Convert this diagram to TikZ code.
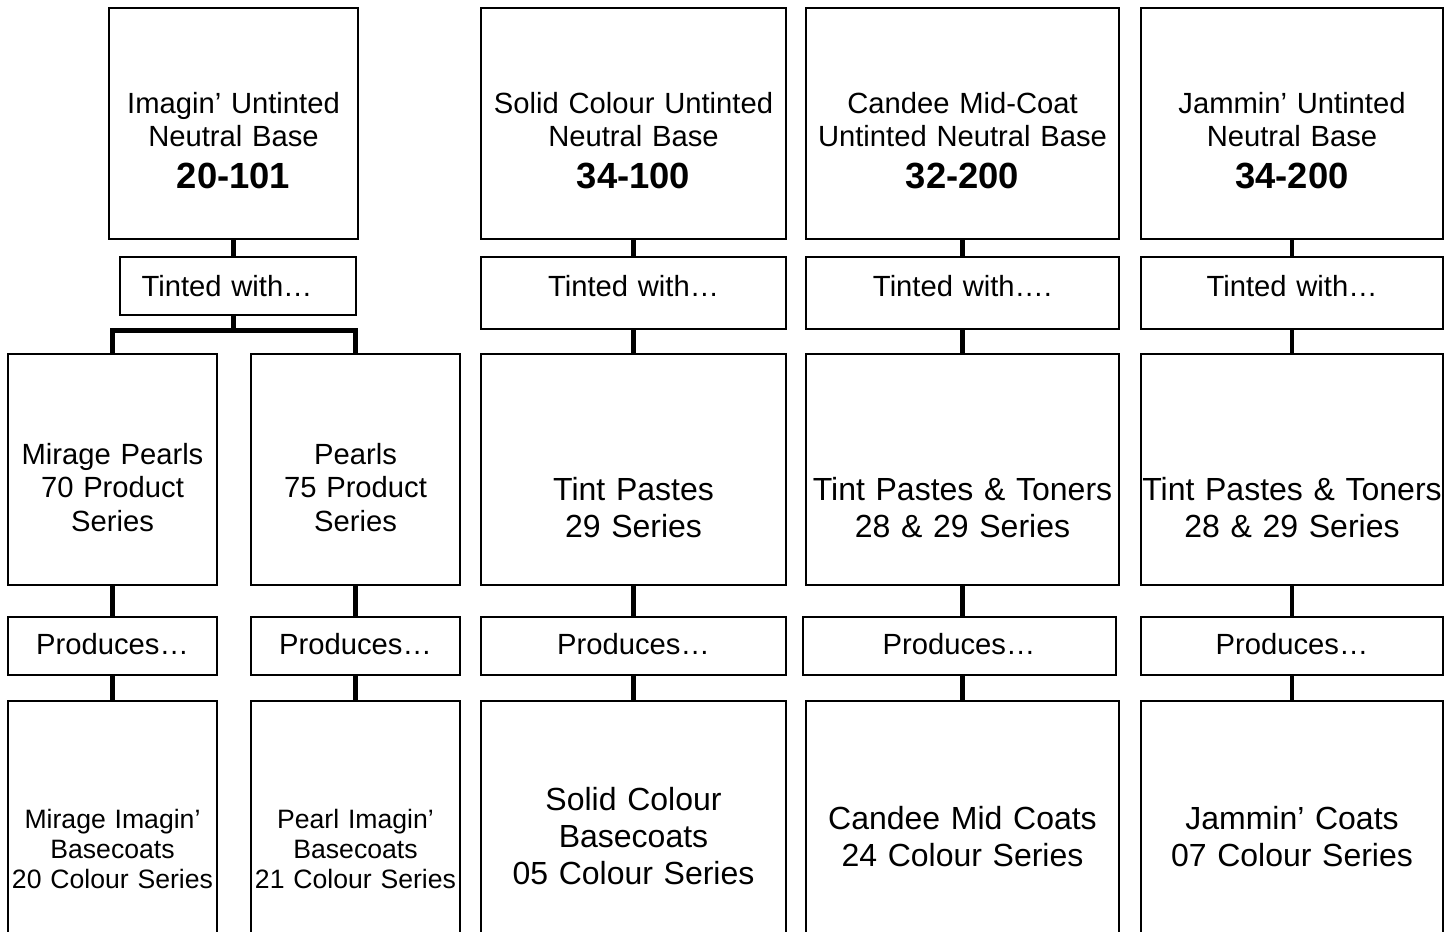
\documentclass[tikz,border=0pt]{standalone}
\usepackage{fontspec}
\setmainfont{Liberation Sans}
\usetikzlibrary{positioning}
\newcommand{\midsize}{\fontsize{14.6pt}{16.7pt}\selectfont}
\newcommand{\bigsize}{\fontsize{16pt}{18.5pt}\selectfont}
\newcommand{\smallsize}{\fontsize{13.3pt}{15pt}\selectfont}
\newcommand{\basecode}[1]{{\fontsize{18.2pt}{16.7pt}\selectfont\bfseries #1}}
\tikzstyle{box} = [
    draw,
    line width=1pt,
    inner sep=0pt,
    outer sep=0pt,
    align=center,
]
\tikzstyle{basebox} = [
    box,
    font=\midsize,
    text height=52.75pt,
    text depth=62.75pt,
]
\tikzstyle{tintbox} = [
    box,
    font=\midsize,
    text height=19.5pt,
    text depth=16.5pt,
]
\tikzstyle{serbox} = [
    box,
    font=\bigsize,
    text height=73.25pt,
    text depth=42.25pt,
]
\tikzstyle{prodbox} = [
    box,
    font=\midsize,
    text height=18.75pt,
    text depth=10.25pt,
]
\tikzstyle{coatbox} = [
    box,
    font=\bigsize,
    text height=64.25pt,
    text depth=65.75pt,
]
\tikzstyle{link} = [
    line width=2.4pt
]

\begin{document}
\begin{tikzpicture}[x=0.5pt, y=-0.5pt, node distance=0pt]
	\useasboundingbox (0,0) rectangle (1455,931);
	\clip (0,0) rectangle (1455,931);

	%
	% Imagin' column
	\node[basebox, text width=124.5pt, anchor=north] (top1) at (233.5,8) {Imagin’ Untinted\\Neutral Base\\[4pt]\basecode{20-101}};
	\node[tintbox, text width=118pt, text depth=9.5pt, below=9pt of top1, xshift=2.25pt] (tint1) {Tinted with…\hspace{11pt}\mbox{}};
	\node[serbox, font=\midsize, text width=104.5pt, text height=55.25pt, text depth=60.25pt, anchor=north] (ser1a) at (112.5,354) {Mirage Pearls\\70 Product\\Series};
	\node[serbox, font=\midsize, text width=104.5pt, text height=55.25pt, text depth=60.25pt, anchor=north] (ser1b) at (355.5,354) {Pearls\\75 Product\\Series};
	\node[prodbox, text width=104.5pt, below=16pt of ser1a] (prod1a) {Produces…};
	\node[prodbox, text width=104.5pt, below=16pt of ser1b] (prod1b) {Produces…};
	\node[coatbox, font=\smallsize, text width=104.5pt, text height=63.75pt, text depth=66.25pt, below=13pt of prod1a] (coat1a) {Mirage Imagin’\\Basecoats\\20 Colour Series};
	\node[coatbox, font=\smallsize, text width=104.5pt, text height=63.75pt, text depth=66.25pt, below=13pt of prod1b] (coat1b) {Pearl Imagin’\\Basecoats\\21 Colour Series};

	%
	% Solid colour column
	\node[basebox, text width=152.5pt, anchor=north] (top2) at (633.5,8) {Solid Colour Untinted\\Neutral Base\\[4pt]\basecode{34-100}};
	\node[tintbox, text width=152.5pt, below=9pt of top2] (tint2) {Tinted with…};
	\node[serbox, text width=152.5pt, below=12.5pt of tint2] (ser2) {Tint Pastes\\29 Series};
	\node[prodbox, text width=152.5pt, below=16pt of ser2] (prod2) {Produces…};
	\node[coatbox, text width=152.5pt, text height=54.75pt, text depth=75.25pt, below=13pt of prod2] (coat2) {Solid Colour\\Basecoats\\05 Colour Series};

	%
	% Candee column
	\node[basebox, text width=156.5pt, anchor=north] (top3) at (962.5,8) {Candee Mid-Coat\\Untinted Neutral Base\\[4pt]\basecode{32-200}};
	\node[tintbox, text width=156.5pt, below=9pt of top3] (tint3) {Tinted with….};
	\node[serbox, text width=156.5pt, below=12.5pt of tint3] (ser3) {Tint Pastes \& Toners\\28 \& 29 Series};
	\node[prodbox, text width=156.5pt, below=16pt of ser3, xshift=-1.75pt] (prod3) {Produces…};
	\node[coatbox, text width=156.5pt, below=13pt of prod3, xshift=1.75pt] (coat3) {Candee Mid Coats\\24 Colour Series};

	%
	% Jammin' column
	\node[basebox, text width=151pt, anchor=north] (top4) at (1292,8) {Jammin’ Untinted\\Neutral Base\\[4pt]\basecode{34-200}};
	\node[tintbox, text width=151pt, below=9pt of top4] (tint4) {Tinted with…};
	\node[serbox, text width=151pt, below=12.5pt of tint4] (ser4) {Tint Pastes \& Toners\\28 \& 29 Series};
	\node[prodbox, text width=151pt, below=16pt of ser4] (prod4) {Produces…};
	\node[coatbox, text width=151pt, below=13pt of prod4] (coat4) {Jammin’ Coats\\07 Colour Series};

	%
	% Links
	\draw[link] (top1.south) -- (top1.south |- tint1.north);
	\draw[link] (top1.south |- tint1.south) -- ++(0,15.5) coordinate (fork) -| (ser1a.north)
		(fork) -| (ser1b.north);
	\draw[link] (ser1a) -- (prod1a);
	\draw[link] (prod1a) -- (coat1a);
	\draw[link] (ser1b) -- (prod1b);
	\draw[link] (prod1b) -- (coat1b);

	\draw[link] (top2) -- (tint2);
	\draw[link] (tint2) -- (ser2);
	\draw[link] (ser2) -- (prod2);
	\draw[link] (prod2) -- (coat2);

	\draw[link] (top3) -- (tint3);
	\draw[link] (tint3) -- (ser3);
	\draw[link] (ser3.south) -- (ser3.south |- prod3.north);
	\draw[link] (prod3.south -| coat3.north) -- (coat3.north);

	\draw[link] (top4) -- (tint4);
	\draw[link] (tint4) -- (ser4);
	\draw[link] (ser4) -- (prod4);
	\draw[link] (prod4) -- (coat4);

\end{tikzpicture}
\end{document}
